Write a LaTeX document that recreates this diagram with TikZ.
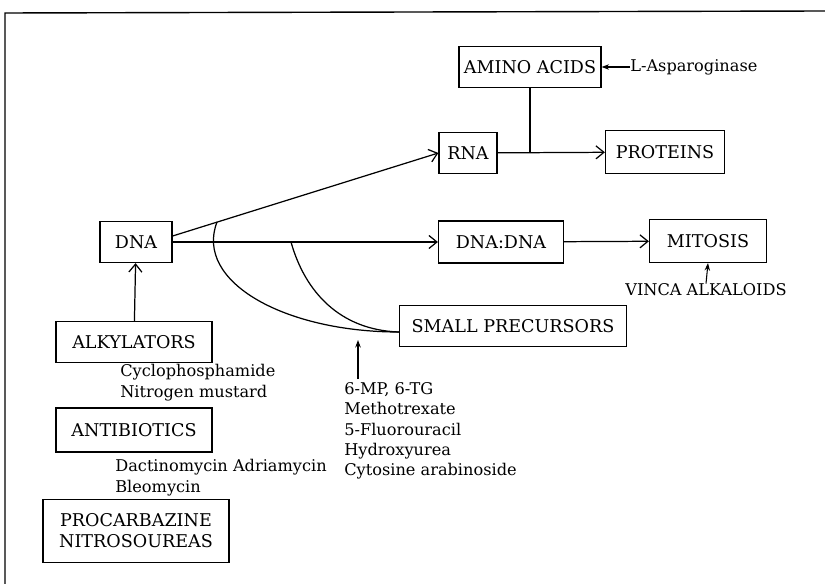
\documentclass[tikz,border=0pt]{standalone}
\usepackage{fontspec}
\setmainfont{DejaVu Serif}
\usepackage{tikz}
\usetikzlibrary{arrows.meta,positioning,calc}

\begin{document}
\begin{tikzpicture}[x=0.02cm,y=-0.02cm,
  box/.style={draw,line width=0.7pt,align=center,inner sep=2pt,
              minimum height=0.82cm,font=\fontsize{10}{12}\selectfont},
  label/.style={align=left,inner sep=0pt,font=\fontsize{9.2}{11.6}\selectfont},
  arrow/.style={-{Straight Barb[length=1.6mm,width=2.6mm]},line width=0.7pt},
  tick/.style={-{Stealth[length=1.5mm,width=1.1mm]},line width=0.6pt},
  link/.style={line width=0.7pt}
]
  \useasboundingbox (0,0) rectangle (825,584);
  % frame (only top and left edges show)
  \draw[line width=0.8pt] (5,584) -- (5,13) -- (825,11);

  \node[box,minimum width=2.84cm] (amino) at (530,67) {AMINO ACIDS};
  \node[box,minimum width=1.16cm] (rna) at (468,153) {RNA};
  \node[box,minimum width=2.38cm,minimum height=0.86cm] (proteins) at (665,152) {PROTEINS};
  \node[box,minimum width=1.44cm] (dna) at (136,242) {DNA};
  \node[box,minimum width=2.5cm,minimum height=0.84cm] (dnadna) at (501,242) {DNA:DNA};
  \node[box,minimum width=2.34cm,minimum height=0.86cm] (mitosis) at (708,241) {MITOSIS};
  \node[box,minimum width=4.54cm] (small) at (513,326) {SMALL PRECURSORS};
  \node[box,minimum width=3.12cm] (alkyl) at (134,342) {ALKYLATORS};
  \node[box,minimum width=3.12cm,minimum height=0.88cm] (antib) at (134,430) {ANTIBIOTICS};
  \node[box,minimum width=3.72cm,minimum height=1.26cm] (procarb) at (136,531) {PROCARBAZINE\\NITROSOUREAS};

  \node[label,anchor=west] (lasp) at (630,67) {L-Asparoginase};
  \node[label] (vinca) at (706,290) {VINCA ALKALOIDS};
  \node[label,anchor=north west] (alkdrugs) at (120,364) {Cyclophosphamide\\Nitrogen mustard};
  \node[label,anchor=north west] (abdrugs) at (115,459) {Dactinomycin Adriamycin\\Bleomycin};
  \node[label,anchor=north west] (drugs) at (344,382)
    {6-MP, 6-TG\\Methotrexate\\5-Fluorouracil\\Hydroxyurea\\Cytosine arabinoside};

  \coordinate (fork1) at (217,222);
  \coordinate (fork2) at (291,242);
  \coordinate (join) at ($(small.west)+(0,6)$);
  \coordinate (hit) at (358,340);
  \coordinate (drugtop) at (358,379);

  \draw[arrow] (dna.east) ++(0,-6) -- (rna.west);
  \draw[arrow] (dna.east) -- (dnadna.west);
  \draw[arrow] (dnadna) -- (mitosis);
  \draw[arrow] (rna) -- (proteins);
  \draw[link] (amino.south) -- (amino.south |- rna.east);
  \draw[tick] (lasp) -- (amino);
  \draw[tick] (vinca.north) -- (mitosis.south);
  \draw[arrow] (alkyl) -- (dna);
  \draw[tick] (drugtop) -- (hit);

  \draw[link] (fork1) .. controls (194,282) and (285,332) .. (join);
  \draw[link] (fork2) .. controls (305,292) and (340,330) .. (join);
\end{tikzpicture}
\end{document}
